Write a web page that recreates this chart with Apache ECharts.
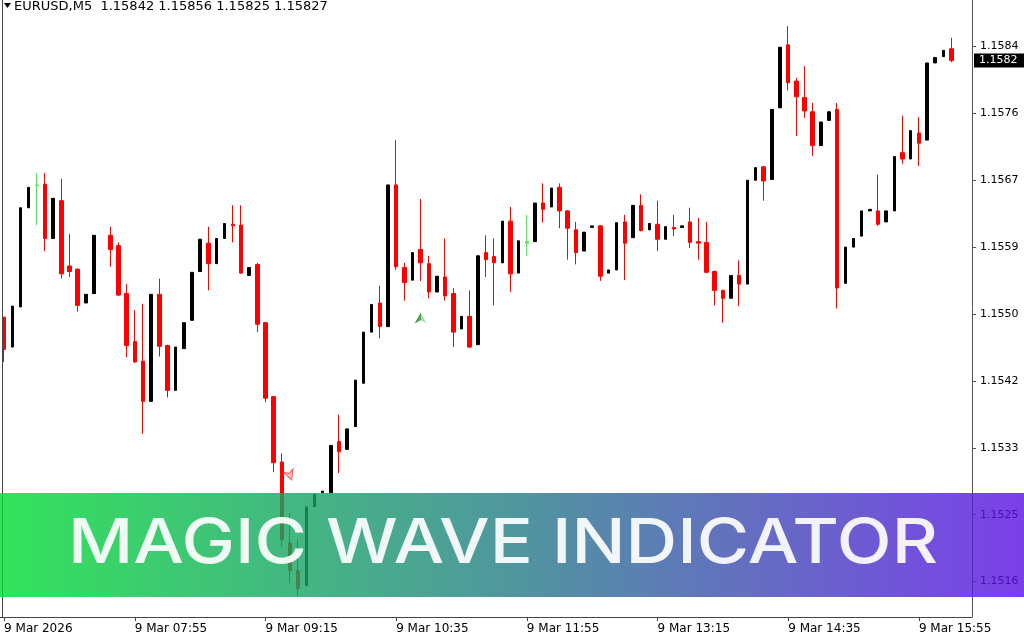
<!DOCTYPE html>
<html><head><meta charset="utf-8">
<script src="https://cdn.jsdelivr.net/npm/echarts@6/dist/echarts.min.js"></script>
<style>html,body{margin:0;padding:0;background:#fff;}#c{width:1024px;height:640px;}</style>
</head><body><div id="c"></div>
<script>
// ---- data (EURUSD M5, 9 Mar 2026) ----
const symbolName = 'EURUSD,M5';
const firstBarTime = '06:35';
const totalSlots = 119; // bars + empty shift space at the right
const opens  = [1.15501,1.15463,1.15514,1.15640,1.15669,1.15670,1.15601,1.15649,1.15566,1.15562,
 1.15519,1.15531,null,1.15605,1.15592,1.15531,1.15470,1.15445,1.15394,1.15530,
 1.15465,1.15408,1.15461,1.15497,1.15559,1.15595,1.15569,1.15601,1.15619,1.15618,
 1.15554,1.15568,1.15494,1.15400,1.15317,1.15214,1.15179,1.15160,1.15260,1.15278,
 1.15278,1.15343,1.15333,1.15362,1.15417,1.15482,1.15519,1.15489,1.15669,1.15564,
 1.15548,1.15587,1.15569,1.15533,1.15552,1.15531,1.15486,1.15502,1.15466,1.15583,
 1.15578,1.15570,1.15623,1.15557,1.15597,1.15597,1.15646,1.15641,1.15666,1.15636,
 1.15612,1.15585,1.15615,1.15617,1.15557,1.15561,1.15622,1.15602,1.15643,1.15612,
 1.15619,1.15600,1.15615,1.15615,1.15622,1.15597,1.15596,1.15559,1.15535,1.15525,
 1.15554,1.15543,1.15675,1.15692,1.15676,1.15767,1.15847,1.15801,1.15780,1.15762,
 1.15719,1.15751,1.15765,1.15544,1.15590,1.15604,1.15636,1.15636,1.15622,1.15636,
 1.15710,1.15702,1.15735,1.15726,1.15824,1.15832,1.15842];
const highs  = [1.15501,1.15515,1.15640,1.15666,1.15684,1.15684,1.15652,1.15677,1.15607,1.15563,
 1.15530,1.15605,null,1.15616,1.15596,1.15543,1.15510,1.15518,1.15530,1.15550,
 1.15466,1.15463,1.15494,1.15558,1.15600,1.15616,1.15601,1.15620,1.15643,1.15643,
 1.15564,1.15570,1.15495,1.15401,1.15328,1.15252,1.15218,1.15260,1.15276,1.15280,
 1.15338,1.15377,1.15359,1.15421,1.15482,1.15517,1.15541,1.15669,1.15726,1.15570,
 1.15583,1.15651,1.15579,1.15553,1.15601,1.15538,1.15502,1.15535,1.15579,1.15605,
 1.15601,1.15623,1.15641,1.15598,1.15631,1.15646,1.15671,1.15665,1.15671,1.15637,
 1.15622,1.15609,1.15617,1.15618,1.15561,1.15621,1.15631,1.15643,1.15657,1.15620,
 1.15649,1.15616,1.15631,1.15617,1.15640,1.15627,1.15622,1.15560,1.15536,1.15554,
 1.15573,1.15675,1.15691,1.15693,1.15765,1.15844,1.15871,1.15805,1.15820,1.15773,
 1.15749,1.15762,1.15773,1.15590,1.15601,1.15636,1.15638,1.15682,1.15636,1.15705,
 1.15757,1.15738,1.15755,1.15824,1.15831,1.15840,1.15856];
const lows   = [1.15444,1.15463,1.15514,1.15640,1.15618,1.15585,1.15601,1.15550,1.15552,1.15508,
 1.15519,1.15531,null,1.15565,1.15528,1.15450,1.15443,1.15353,1.15394,1.15451,
 1.15399,1.15408,1.15461,1.15497,1.15559,1.15535,1.15569,1.15601,1.15596,1.15556,
 1.15554,1.15482,1.15393,1.15304,1.15209,1.15163,1.15146,1.15160,1.15260,1.15278,
 1.15278,1.15303,1.15333,1.15362,1.15417,1.15482,1.15474,1.15489,1.15561,1.15522,
 1.15548,1.15547,1.15525,1.15533,1.15522,1.15463,1.15486,1.15462,1.15466,1.15552,
 1.15516,1.15570,1.15533,1.15557,1.15579,1.15597,1.15621,1.15641,1.15614,1.15574,
 1.15568,1.15585,1.15615,1.15547,1.15557,1.15561,1.15548,1.15602,1.15610,1.15612,
 1.15585,1.15600,1.15604,1.15615,1.15589,1.15574,1.15557,1.15516,1.15494,1.15525,
 1.15515,1.15543,1.15675,1.15649,1.15676,1.15767,1.15789,1.15731,1.15754,1.15706,
 1.15719,1.15751,1.15512,1.15544,1.15590,1.15604,1.15636,1.15617,1.15622,1.15636,
 1.15696,1.15702,1.15693,1.15726,1.15824,1.15832,1.15825];
const closes = [1.15460,1.15515,1.15640,1.15666,1.15668,1.15601,1.15652,1.15556,1.15559,1.15516,
 1.15530,1.15605,null,1.15587,1.15529,1.15465,1.15444,1.15394,1.15530,1.15464,
 1.15408,1.15463,1.15494,1.15558,1.15600,1.15569,1.15601,1.15620,1.15617,1.15557,
 1.15564,1.15492,1.15398,1.15316,1.15218,1.15179,1.15156,1.15260,1.15276,1.15280,
 1.15338,1.15330,1.15359,1.15421,1.15482,1.15517,1.15489,1.15669,1.15565,1.15545,
 1.15583,1.15570,1.15533,1.15553,1.15528,1.15482,1.15502,1.15463,1.15579,1.15574,
 1.15570,1.15623,1.15556,1.15598,1.15595,1.15646,1.15638,1.15665,1.15636,1.15614,
 1.15583,1.15609,1.15617,1.15553,1.15561,1.15621,1.15595,1.15643,1.15611,1.15620,
 1.15600,1.15616,1.15613,1.15617,1.15596,1.15595,1.15558,1.15535,1.15525,1.15554,
 1.15543,1.15675,1.15691,1.15674,1.15765,1.15844,1.15799,1.15781,1.15763,1.15719,
 1.15749,1.15762,1.15538,1.15590,1.15601,1.15636,1.15638,1.15619,1.15636,1.15705,
 1.15702,1.15738,1.15722,1.15824,1.15831,1.15840,1.15827];
const waveBars = [4, 64];            // bars painted by the Magic Wave indicator
const buyArrows  = [[51, 1.15500]];  // [bar, price]
const sellArrows = [[35, 1.15300]];
const yTickValues = [1.15845,1.15760,1.15675,1.15590,1.15505,1.15420,1.15335,1.15250,1.15165];
const yTickLabels = ['1.1584','1.1576','1.1567','1.1559','1.1550','1.1542','1.1533','1.1525','1.1516'];
const xTickLabels = ['9 Mar 2026','9 Mar 07:55','9 Mar 09:15','9 Mar 10:35','9 Mar 11:55','9 Mar 13:15','9 Mar 14:35','9 Mar 15:55'];
const xTickEvery = 16;
const yMin = 1.15120, yMax = 1.15904;
const bannerText = 'MAGIC WAVE INDICATOR';

// ---- build ----
const categories = [];
(function(){ const p = firstBarTime.split(':'); let m = (+p[0])*60 + (+p[1]);
  for (let i = 0; i < totalSlots; i++) { const t = m + 5*i;
    categories.push('9 Mar ' + String(Math.floor(t/60)%24).padStart(2,'0') + ':' + String(t%60).padStart(2,'0')); } })();
const EMPTY = ['-','-','-','-'];
const upData = [], downData = [], waveData = [];
for (let i = 0; i < totalSlots; i++) {
  const o = opens[i];
  if (o == null) { upData.push(EMPTY); downData.push(EMPTY); waveData.push(EMPTY); continue; }
  const item = [o, closes[i], lows[i], highs[i]];
  if (waveBars.indexOf(i) >= 0) { waveData.push(item); upData.push(EMPTY); downData.push(EMPTY); }
  else if (closes[i] >= o) { upData.push(item); downData.push(EMPTY); waveData.push(EMPTY); }
  else { downData.push(item); upData.push(EMPTY); waveData.push(EMPTY); }
}
const last = opens.length - 1;
const headerText = symbolName + '  ' + [opens[last], highs[last], lows[last], closes[last]].map(v => v.toFixed(5)).join(' ');
const lastLabel = (Math.floor(closes[last]*1e4 + 1e-6)/1e4).toFixed(4);

// banner font fitted to the reference width
const BANNER_FONT = '500 62px Inter';
const mctx = document.createElement('canvas').getContext('2d');
mctx.font = BANNER_FONT;
const bannerScaleX = 870 / mctx.measureText(bannerText).width;

const chart = echarts.init(document.getElementById('c'), null, {renderer: 'canvas'});
const FONT = 'DejaVu Sans';
function cs(color) { return {color: color, color0: color, borderColor: color, borderColor0: color, borderWidth: 1}; }
chart.setOption({
  animation: false,
  backgroundColor: '#fff',
  grid: {left: 0, right: 52, top: 0, bottom: 23},
  xAxis: {
    type: 'category', data: categories, boundaryGap: true,
    axisLine: {lineStyle: {color: '#444', width: 1}},
    axisTick: {show: true, alignWithLabel: true, length: 4, lineStyle: {color: '#444'}},
    axisLabel: {
      interval: (i) => i % xTickEvery === 0 && (i / xTickEvery) < xTickLabels.length,
      formatter: (v, i) => xTickLabels[Math.round(i / xTickEvery)] || '',
      align: 'left', color: '#000', fontFamily: FONT, fontSize: 12, margin: 6
    },
    splitLine: {show: false}
  },
  yAxis: {
    type: 'value', position: 'right', min: yMin, max: yMax, scale: true,
    axisLine: {show: true, lineStyle: {color: '#555'}},
    axisTick: {show: true, length: 4, customValues: yTickValues, lineStyle: {color: '#555'}},
    axisLabel: {
      customValues: yTickValues,
      formatter: (v) => { const k = yTickValues.findIndex(t => Math.abs(t - v) < 1e-7); return k >= 0 ? yTickLabels[k] : ''; },
      color: '#000', fontFamily: FONT, fontSize: 11, margin: 8
    },
    splitLine: {show: false}
  },
  series: [
    {type: 'candlestick', name: 'up', data: upData, barWidth: 3, itemStyle: cs('#000'), emphasis: {disabled: true}},
    {type: 'candlestick', name: 'down', data: downData, barWidth: 4, itemStyle: cs('#ff0000'), emphasis: {disabled: true}},
    {type: 'candlestick', name: 'wave', data: waveData, barWidth: 4, itemStyle: cs('#5fe35f'), emphasis: {disabled: true}},
    {type: 'scatter', name: 'buy', data: buyArrows, z: 5, symbol: 'path://M6,0 L12,12 L6,8.5 L0,12 Z', symbolSize: [12, 11],
      itemStyle: {color: new echarts.graphic.LinearGradient(0, 0, 1, 0, [{offset: 0, color: '#1f6f2a'}, {offset: 0.5, color: '#2e8b3a'}, {offset: 0.5, color: '#7fd98a'}, {offset: 1, color: '#9fe3a8'}])}},
    {type: 'scatter', name: 'sell', data: sellArrows, z: 5, symbol: 'path://M6,0 L12,12 L6,8.5 L0,12 Z', symbolSize: [10, 10], symbolRotate: 200,
      itemStyle: {color: '#ffb0b0', borderColor: '#ff3030', borderWidth: 1}}
  ]
});

// current-price tag on the price scale, placed through the y axis scale
const priceY = chart.convertToPixel({yAxisIndex: 0}, closes[last]);
chart.setOption({
  graphic: {elements: [
    {type: 'line', shape: {x1: 2.5, y1: 0, x2: 2.5, y2: 617}, style: {stroke: '#444', lineWidth: 1}, z: 50},
    {type: 'polygon', shape: {points: [[4, 3], [11, 3], [7.5, 8]]}, style: {fill: '#000'}, z: 50},
    {type: 'text', x: 14, y: 0, style: {text: headerText, fill: '#000', font: '13px "DejaVu Sans"'}, z: 50},
    {type: 'text', x: 974, y: priceY, z: 60,
      style: {text: lastLabel, fill: '#fff', backgroundColor: '#000', padding: [2, 8, 1, 5], font: '11px "DejaVu Sans"', textVerticalAlign: 'middle'}},
    {type: 'rect', shape: {x: 0, y: 493, width: 1024, height: 104}, z: 100,
      style: {opacity: 0.8, fill: new echarts.graphic.LinearGradient(0, 0, 1, 0, [
        {offset: 0, color: 'rgb(0,220,50)'}, {offset: 0.5, color: 'rgb(36,124,134)'}, {offset: 1, color: 'rgb(90,15,229)'}])}},
    {type: 'text', x: 503, y: 544, z: 101, scaleX: bannerScaleX,
      style: {text: bannerText, fill: '#fff', opacity: 0.92, font: BANNER_FONT, textAlign: 'center', textVerticalAlign: 'middle'}}
  ]}
});
</script></body></html>
